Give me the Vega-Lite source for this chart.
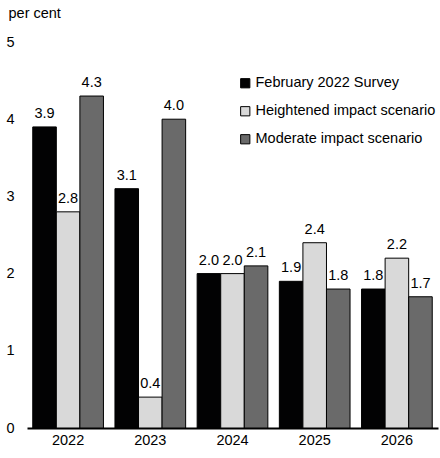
{
  "$schema": "https://vega.github.io/schema/vega-lite/v6.json",
  "autosize": "none",
  "width": 411,
  "height": 386,
  "padding": {"left": 27, "top": 42, "right": 2, "bottom": 30},
  "background": "white",
  "config": {
    "font": "Liberation Sans",
    "view": {"stroke": null}
  },
  "data": {
    "values": [
      {"year": "2022", "series": "February 2022 Survey", "value": 3.9},
      {"year": "2022", "series": "Heightened impact scenario", "value": 2.8},
      {"year": "2022", "series": "Moderate impact scenario", "value": 4.3},
      {"year": "2023", "series": "February 2022 Survey", "value": 3.1},
      {"year": "2023", "series": "Heightened impact scenario", "value": 0.4},
      {"year": "2023", "series": "Moderate impact scenario", "value": 4.0},
      {"year": "2024", "series": "February 2022 Survey", "value": 2.0},
      {"year": "2024", "series": "Heightened impact scenario", "value": 2.0},
      {"year": "2024", "series": "Moderate impact scenario", "value": 2.1},
      {"year": "2025", "series": "February 2022 Survey", "value": 1.9},
      {"year": "2025", "series": "Heightened impact scenario", "value": 2.4},
      {"year": "2025", "series": "Moderate impact scenario", "value": 1.8},
      {"year": "2026", "series": "February 2022 Survey", "value": 1.8},
      {"year": "2026", "series": "Heightened impact scenario", "value": 2.2},
      {"year": "2026", "series": "Moderate impact scenario", "value": 1.7}
    ]
  },
  "encoding": {
    "x": {
      "field": "year", "type": "nominal",
      "scale": {"paddingInner": 0.14, "paddingOuter": 0.07},
      "axis": {
        "title": null, "labelAngle": 0, "ticks": false,
        "domainColor": "#000000", "domainWidth": 2,
        "labelFontSize": 14.5, "labelColor": "#000000", "labelPadding": 5
      }
    },
    "xOffset": {
      "field": "series", "type": "nominal",
      "sort": ["February 2022 Survey", "Heightened impact scenario", "Moderate impact scenario"],
      "scale": {"paddingInner": 0, "paddingOuter": 0}
    },
    "y": {
      "field": "value", "type": "quantitative",
      "scale": {"domain": [0, 5], "nice": false},
      "axis": {
        "values": [0, 1, 2, 3, 4, 5], "format": "d",
        "domain": false, "ticks": false, "grid": false,
        "labelFontSize": 14.5, "labelColor": "#000000", "labelPadding": 13,
        "title": "per cent", "titleAngle": 0, "titleAlign": "left",
        "titleBaseline": "middle", "titleX": -19, "titleY": -29,
        "titleFontSize": 14.5, "titleFontWeight": "normal", "titleColor": "#000000"
      }
    }
  },
  "layer": [
    {
      "mark": {"type": "bar", "stroke": "#000000", "strokeWidth": 1},
      "encoding": {
        "color": {
          "field": "series", "type": "nominal",
          "sort": ["February 2022 Survey", "Heightened impact scenario", "Moderate impact scenario"],
          "scale": {
            "domain": ["February 2022 Survey", "Heightened impact scenario", "Moderate impact scenario"],
            "range": ["#020203", "#d9d9d9", "#6a6a6a"]
          },
          "legend": {
            "title": null, "orient": "none", "legendX": 211, "legendY": 34,
            "symbolType": "square", "symbolSize": 85, "symbolStrokeColor": "#000000",
            "symbolStrokeWidth": 1, "labelFontSize": 14.5, "labelColor": "#000000",
            "rowPadding": 13, "labelOffset": 3, "labelLimit": 0
          }
        }
      }
    },
    {
      "mark": {"type": "text", "baseline": "bottom", "dy": -6, "fontSize": 14.5, "color": "#000000"},
      "encoding": {
        "text": {"field": "value", "type": "quantitative", "format": ".1f"}
      }
    }
  ]
}
